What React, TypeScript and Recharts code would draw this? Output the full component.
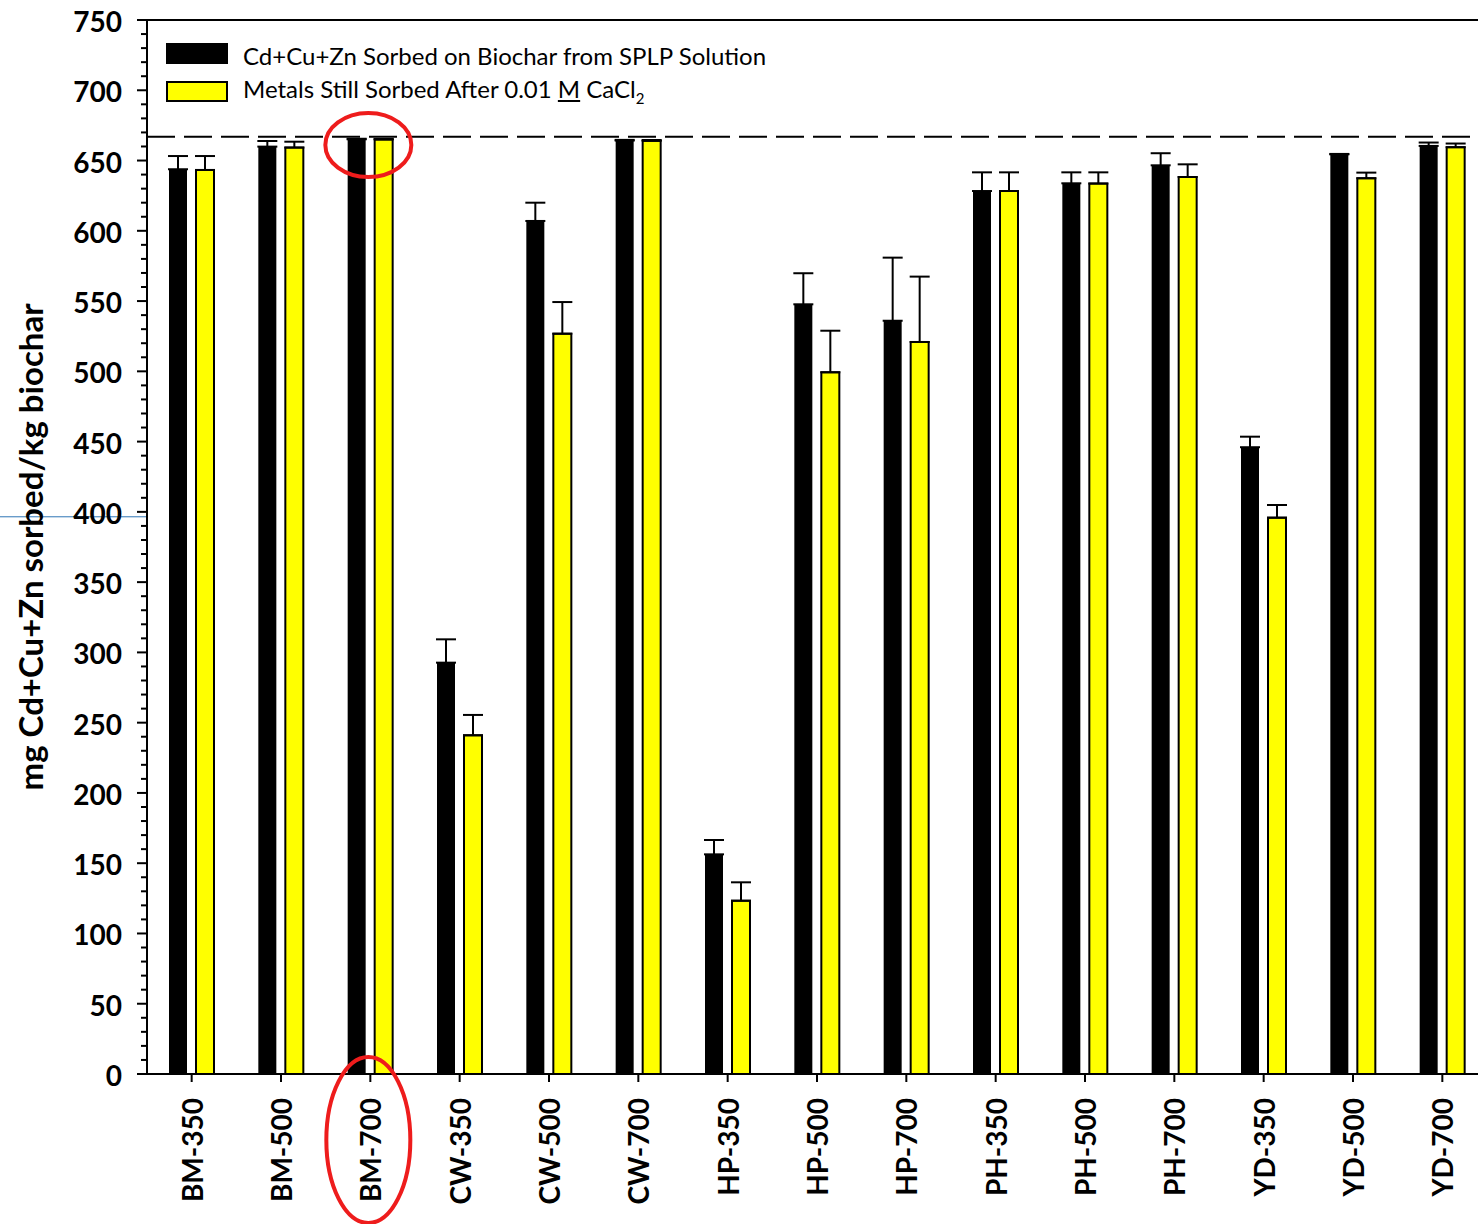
import React from 'react';
import {
  BarChart,
  Bar,
  XAxis,
  YAxis,
  ErrorBar,
  ReferenceLine,
  ReferenceDot,
  Legend,
} from 'recharts';

// biochar feedstock + pyrolysis temperature
const samples = [
  'BM-350', 'BM-500', 'BM-700',
  'CW-350', 'CW-500', 'CW-700',
  'HP-350', 'HP-500', 'HP-700',
  'PH-350', 'PH-500', 'PH-700',
  'YD-350', 'YD-500', 'YD-700',
];

// mg Cd+Cu+Zn sorbed per kg biochar from SPLP solution
const sorbed = [643.8, 659.9, 665.1, 292.7, 607.0, 664.2, 156.3, 547.7, 536.0, 628.3, 633.8, 646.6, 446.0, 654.4, 660.4];
const sorbedSd = [9.4, 4.0, 0.4, 16.6, 13.0, 0.5, 10.2, 22.1, 44.9, 13.3, 7.8, 8.6, 7.5, 0.3, 2.4];

// still sorbed after the 0.01 M CaCl2 wash
const retained = [643.3, 659.2, 665.0, 241.0, 526.8, 664.0, 123.3, 499.3, 520.9, 628.3, 633.6, 638.3, 395.9, 637.4, 659.5];
const retainedSd = [9.9, 4.2, 0.4, 14.5, 22.5, 0.6, 13.1, 29.6, 46.5, 13.3, 8.0, 9.0, 9.0, 4.0, 2.6];

// total metal added (max possible sorption)
const maxSorbable = 667;

const yMax = 750;
const yLabelEvery = 50;
const yTicks = Array.from({ length: yMax / 10 + 1 }, (_, i) => i * 10);

const data = samples.map((name, i) => ({
  name,
  sorbed: sorbed[i],
  sorbedErr: [0, sorbedSd[i]],
  retained: retained[i],
  retainedErr: [0, retainedSd[i]],
}));

const FONT = 'Lato, "Open Sans", sans-serif';

const YTick = (props: any) => {
  const { x, y, payload } = props;
  const major = payload.value % yLabelEvery === 0;
  return (
    <g>
      <line x1={x - (major ? 10 : 6)} y1={y} x2={x} y2={y} stroke="#000" strokeWidth={2} />
      {major && (
        <text
          x={x - 25}
          y={y}
          dy={1}
          textAnchor="end"
          dominantBaseline="central"
          fontFamily={FONT}
          fontWeight={700}
          fontSize={28}
          fill="#000"
        >
          {payload.value}
        </text>
      )}
    </g>
  );
};

const XTick = (props: any) => {
  const { x, y, payload } = props;
  return (
    <text
      x={x}
      y={y}
      transform={`rotate(-90 ${x} ${y})`}
      textAnchor="end"
      dominantBaseline="central"
      fontFamily={FONT}
      fontWeight={700}
      fontSize={28}
      fill="#000"
    >
      {payload.value}
    </text>
  );
};

const YLabel = (props: any) => {
  const { x, y, height } = props.viewBox;
  const cx = x + 30;
  const cy = y + height / 2;
  return (
    <text
      x={cx}
      y={cy}
      transform={`rotate(-90 ${cx} ${cy})`}
      textAnchor="middle"
      dominantBaseline="central"
      fontFamily={FONT}
      fontWeight={700}
      fontSize={33}
      fill="#000"
    >
      mg Cd+Cu+Zn sorbed/kg biochar
    </text>
  );
};

const swatch = (fill: string, border: boolean) => ({
  width: border ? 58 : 62,
  height: border ? 17 : 21,
  background: fill,
  border: border ? '2px solid #000' : 'none',
  marginRight: 15,
});

const LegendBox = () => (
  <div style={{ fontFamily: FONT, fontSize: 24, color: '#000', lineHeight: '21px' }}>
    <div style={{ display: 'flex', alignItems: 'center', marginBottom: 17 }}>
      <div style={swatch('#000', false)} />
      <span style={{ position: 'relative', top: 2 }}>Cd+Cu+Zn Sorbed on Biochar from SPLP Solution</span>
    </div>
    <div style={{ display: 'flex', alignItems: 'center' }}>
      <div style={swatch('#ffff00', true)} />
      <span style={{ position: 'relative', top: -3 }}>
        Metals Still Sorbed After 0.01 <u>M</u> CaCl<sub style={{ fontSize: 15, lineHeight: 0 }}>2</sub>
      </span>
    </div>
  </div>
);

const Highlight = (dy: number, rx: number, ry: number) => (p: any) => (
  <ellipse cx={p.cx - 2} cy={p.cy + dy} rx={rx} ry={ry} fill="none" stroke="#ee1c1c" strokeWidth={4} />
);

export default function App() {
  return (
    <div style={{ position: 'absolute', left: 0, top: 0, width: 1478, height: 1224, overflow: 'hidden', background: '#fff' }}>
      <BarChart
        width={1490}
        height={1224}
        data={data}
        margin={{ top: 20, right: 3, bottom: 0, left: 0 }}
        barSize={18}
        barGap={9}
      >
        <XAxis
          dataKey="name"
          height={150}
          interval={0}
          axisLine={{ stroke: '#000', strokeWidth: 2 }}
          tickLine={{ stroke: '#000', strokeWidth: 2 }}
          tickSize={8}
          tickMargin={16}
          tick={<XTick />}
        />
        <YAxis
          width={147}
          domain={[0, yMax]}
          ticks={yTicks}
          interval={0}
          allowDataOverflow
          tickSize={0}
          tickMargin={0}
          tickLine={false}
          axisLine={{ stroke: '#000', strokeWidth: 2 }}
          tick={<YTick />}
          label={<YLabel />}
        />
        <Legend
          layout="horizontal"
          align="center"
          verticalAlign="middle"
          wrapperStyle={{ top: 43, left: 166, width: 720, height: 60 }}
          content={<LegendBox />}
        />
        <ReferenceLine y={yMax} stroke="#000" strokeWidth={2} />
        <ReferenceLine y={maxSorbable} stroke="#000" strokeWidth={2} strokeDasharray="28 9" />
        <ReferenceLine
          y={396.5}
          shape={(p: any) => (
            <line x1={0} y1={p.y1} x2={p.x1} y2={p.y1} stroke="#2e75b6" strokeWidth={1} />
          )}
        />
        <Bar dataKey="sorbed" fill="#000" isAnimationActive={false}>
          <ErrorBar dataKey="sorbedErr" direction="y" width={10} stroke="#000" strokeWidth={2} />
        </Bar>
        <Bar dataKey="retained" fill="#ffff00" stroke="#000" strokeWidth={2} isAnimationActive={false}>
          <ErrorBar dataKey="retainedErr" direction="y" width={10} stroke="#000" strokeWidth={2} />
        </Bar>
        <ReferenceDot x="BM-700" y={661} r={0} ifOverflow="visible" shape={Highlight(0, 43, 32)} />
        <ReferenceDot x="BM-700" y={0} r={0} ifOverflow="visible" shape={Highlight(66, 42, 83)} />
      </BarChart>
    </div>
  );
}
